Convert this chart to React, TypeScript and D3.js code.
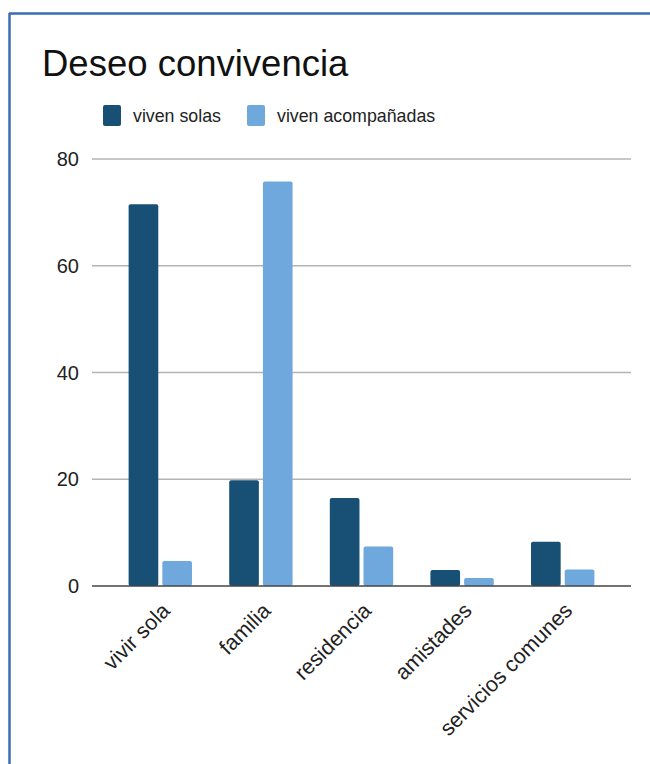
import React from "react";
import * as d3 from "d3";

const categories = ["vivir sola", "familia", "residencia", "amistades", "servicios comunes"];
const seriesNames = ["viven solas", "viven acompañadas"];
const vivenSolas = [71.5, 19.8, 16.5, 3.0, 8.3];
const vivenAcompanadas = [4.7, 75.8, 7.4, 1.5, 3.1];
const yTicks = [0, 20, 40, 60, 80];
const colors = ["#175074", "#6fa8dc"];

export default function App() {
  const W = 650, H = 764;
  const y = d3.scaleLinear().domain([0, 80]).range([586, 159]);
  const x0 = d3.scaleBand<string>().domain(categories).range([110, 613]).paddingInner(0.37).paddingOuter(0.185);
  const x1 = d3.scaleBand<string>().domain(seriesNames).range([0, x0.bandwidth()]).paddingInner(0.12);
  const series = [vivenSolas, vivenAcompanadas];
  const font = "Liberation Sans, Arial, sans-serif";
  return (
    <svg width={W} height={H} style={{ position: "absolute", left: 0, top: 0 }} fontFamily={font}>
      <rect x={0} y={0} width={W} height={H} fill="#fff" />
      <line x1={9.5} y1={13} x2={9.5} y2={H} stroke="#3b6db0" strokeWidth={2.5} />
      <line x1={9} y1={13.5} x2={W} y2={13.5} stroke="#3b6db0" strokeWidth={2.5} />
      <text x={42} y={76} fontSize={36.5} fill="#111">Deseo convivencia</text>
      {seriesNames.map((s, i) => {
        const lx = i === 0 ? 103 : 247;
        return (
          <g key={s}>
            <rect x={lx} y={105} width={18} height={21} rx={2} fill={colors[i]} />
            <text x={lx + 30} y={122} fontSize={17.8} fill="#222">{s}</text>
          </g>
        );
      })}
      {yTicks.map((t) => (
        <g key={t}>
          {t > 0 && <line x1={92} x2={631} y1={y(t)} y2={y(t)} stroke="#b4b4b8" strokeWidth={1.5} />}
          <text x={79} y={y(t) + 7} fontSize={20} textAnchor="end" fill="#222">{t}</text>
        </g>
      ))}
      {categories.map((c, ci) => (
        <g key={c}>
          {series.map((vals, si) => (
            <rect
              key={si}
              x={(x0(c) ?? 0) + (x1(seriesNames[si]) ?? 0)}
              y={y(vals[ci])}
              width={x1.bandwidth()}
              height={y(0) - y(vals[ci])}
              rx={2}
              fill={colors[si]}
            />
          ))}
          <text
            transform={`translate(${(x0(c) ?? 0) + x0.bandwidth() / 2 + 11},${612}) rotate(-45)`}
            textAnchor="end"
            fontSize={21.5}
            fill="#222"
          >
            {c}
          </text>
        </g>
      ))}
      <line x1={92} x2={631} y1={y(0)} y2={y(0)} stroke="#444" strokeWidth={1.5} />
    </svg>
  );
}
